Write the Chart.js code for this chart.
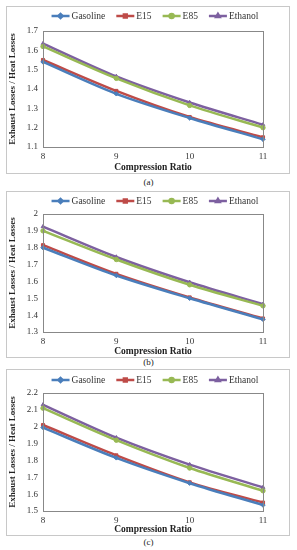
<!DOCTYPE html>
<html>
<head>
<meta charset="utf-8">
<script src="https://cdn.jsdelivr.net/npm/chart.js@4"></script>
<style>
  html, body { margin: 0; padding: 0; background: #fff; }
  body { width: 297px; height: 550px; position: relative; overflow: hidden; font-family: "Liberation Serif", "Times New Roman", serif; }
  .box { position: absolute; left: 6px; width: 284px; border: 1px solid #c8c8c8; box-sizing: border-box; }
  .box canvas { position: absolute; left: 0; top: 0; }
  .cap { position: absolute; left: 0; width: 297px; text-align: center; font-size: 9px; color: #222; }
</style>
</head>
<body>
<div class="box" id="boxA" style="top:6px;height:168px;"><canvas id="cA"></canvas></div>
<div class="cap" style="top:177px;">(a)</div>
<div class="box" id="boxB" style="top:191px;height:167px;"><canvas id="cB"></canvas></div>
<div class="cap" style="top:357px;">(b)</div>
<div class="box" id="boxC" style="top:369px;height:167px;"><canvas id="cC"></canvas></div>
<div class="cap" style="top:537px;">(c)</div>
<script>
const categories = ['8', '9', '10', '11'];
const seriesNames = ['Gasoline', 'E15', 'E85', 'Ethanol'];

// Panel (a)
const gasolineA = [1.54, 1.375, 1.25, 1.14];
const e15A      = [1.55, 1.39, 1.255, 1.15];
const e85A      = [1.62, 1.455, 1.315, 1.20];
const ethanolA  = [1.635, 1.465, 1.33, 1.215];
// Panel (b)
const gasolineB = [1.80, 1.635, 1.50, 1.375];
const e15B      = [1.815, 1.645, 1.505, 1.38];
const e85B      = [1.90, 1.73, 1.58, 1.455];
const ethanolB  = [1.925, 1.745, 1.595, 1.465];
// Panel (c)
const gasolineC = [1.995, 1.815, 1.665, 1.535];
const e15C      = [2.01, 1.83, 1.67, 1.55];
const e85C      = [2.11, 1.92, 1.755, 1.62];
const ethanolC  = [2.13, 1.935, 1.775, 1.64];

const yTicksA = [1.1, 1.7, 0.1];
const yTicksB = [1.3, 2.0, 0.1];
const yTicksC = [1.5, 2.2, 0.1];

const colors = ['#4A7EBB', '#BE4B48', '#98B954', '#7D60A0'];
const markers = ['rectRot', 'rect', 'circle', 'triangle'];
const FONT = '"Liberation Serif", "Times New Roman", serif';

const boxPlugin = {
  id: 'plotBox',
  afterDraw(chart) {
    const a = chart.chartArea, ctx = chart.ctx;
    ctx.save();
    ctx.strokeStyle = '#888';
    ctx.lineWidth = 1;
    ctx.strokeRect(Math.round(a.left) + 0.5, Math.round(a.top) + 0.5, Math.round(a.right - a.left), Math.round(a.bottom - a.top));
    ctx.restore();
  }
};

const legendPlugin = {
  id: 'xlLegend',
  afterDraw(chart, args, opts) {
    const ctx = chart.ctx;
    ctx.save();
    ctx.font = '9.5px ' + FONT;
    const lineLen = 18, gap = 2, spacing = 11;
    const items = chart.data.datasets.map(d => ({ d, w: ctx.measureText(d.label).width }));
    let total = items.reduce((s, it) => s + lineLen + gap + it.w, 0) + spacing * (items.length - 1);
    let x = opts.cx - total / 2;
    const y = opts.cy;
    items.forEach(it => {
      const d = it.d;
      ctx.strokeStyle = d.borderColor;
      ctx.lineWidth = 2.5;
      ctx.beginPath();
      ctx.moveTo(x, y);
      ctx.lineTo(x + lineLen, y);
      ctx.stroke();
      ctx.fillStyle = d.borderColor;
      ctx.strokeStyle = d.borderColor;
      Chart.helpers.drawPoint(ctx, { pointStyle: d.pointStyle, radius: 2, borderWidth: 1 }, x + lineLen / 2, y);
      ctx.fillStyle = '#333';
      ctx.textBaseline = 'middle';
      ctx.textAlign = 'left';
      ctx.fillText(d.label, x + lineLen + gap, y + 0.5);
      x += lineLen + gap + it.w + spacing;
    });
    ctx.restore();
  }
};

function makePanel(id, boxId, series, yt, geo) {
  const box = document.getElementById(boxId);
  const W = box.clientWidth, H = box.clientHeight;
  const canvas = document.getElementById(id);
  canvas.width = W; canvas.height = H;
  canvas.style.width = W + 'px'; canvas.style.height = H + 'px';
  const datasets = series.map((vals, i) => ({
    label: seriesNames[i],
    data: vals,
    borderColor: colors[i],
    backgroundColor: colors[i],
    borderWidth: 2.5,
    pointStyle: markers[i],
    pointRadius: 2.2,
    pointBorderWidth: 1,
    tension: 0.3,
    clip: false
  }));
  return new Chart(canvas, {
    type: 'line',
    data: { labels: categories, datasets },
    plugins: [boxPlugin, legendPlugin],
    options: {
      responsive: false,
      animation: false,
      devicePixelRatio: 1,
      layout: { padding: { top: geo.top, right: W - geo.right, left: 0, bottom: 0 } },
      plugins: {
        legend: { display: false },
        tooltip: { enabled: false },
        xlLegend: { cx: geo.legCx, cy: geo.legY }
      },
      scales: {
        x: {
          offset: false,
          grid: { display: false, drawTicks: false },
          border: { display: false },
          ticks: { color: '#333', font: { family: FONT, size: 9 }, padding: 4, maxRotation: 0 },
          title: { display: true, text: 'Compression Ratio', color: '#222', font: { family: FONT, size: 9.5, weight: 'bold' }, padding: { top: 0, bottom: 0 } },
          afterFit(s) { s.height = H - geo.bottom; }
        },
        y: {
          min: yt[0], max: yt[1],
          grid: { display: false, drawTicks: false },
          border: { display: false },
          ticks: { stepSize: yt[2], color: '#333', font: { family: FONT, size: 9 }, padding: 5,
                   callback: v => String(Math.round(v * 10) / 10) },
          title: { display: true, text: 'Exhaust Losses / Heat Losses', color: '#222', font: { family: FONT, size: 9, weight: 'bold' }, padding: { top: 0, bottom: 2 } },
          afterFit(s) { s.width = geo.left; }
        }
      }
    }
  });
}

makePanel('cA', 'boxA', [gasolineA, e15A, e85A, ethanolA], yTicksA,
  { left: 36, right: 256, top: 24, bottom: 140, legCx: 148, legY: 9 });
makePanel('cB', 'boxB', [gasolineB, e15B, e85B, ethanolB], yTicksB,
  { left: 36, right: 256, top: 22, bottom: 140, legCx: 148, legY: 9 });
makePanel('cC', 'boxC', [gasolineC, e15C, e85C, ethanolC], yTicksC,
  { left: 36, right: 256, top: 23, bottom: 141, legCx: 148, legY: 10 });
</script>
</body>
</html>
